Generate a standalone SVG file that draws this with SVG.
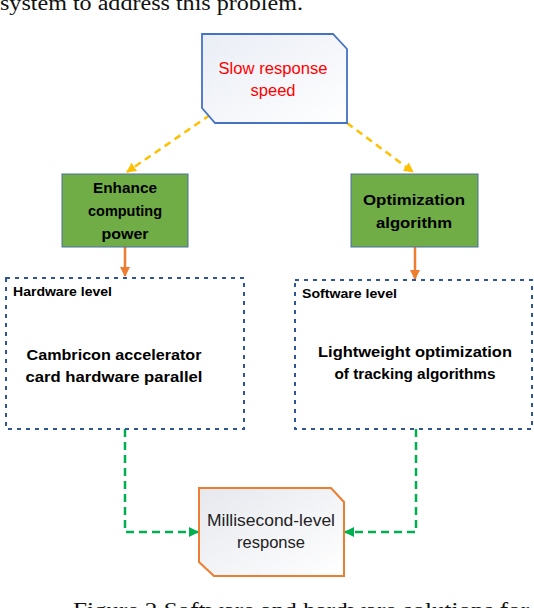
<svg xmlns="http://www.w3.org/2000/svg" width="534" height="608" viewBox="0 0 534 608">
<defs>
<linearGradient id="gBlue" x1="0" y1="0" x2="1" y2="1"><stop offset="0" stop-color="#e9edf5"/><stop offset="1" stop-color="#ffffff"/></linearGradient>
<linearGradient id="gGray" x1="0" y1="0" x2="1" y2="1"><stop offset="0" stop-color="#e6e8ee"/><stop offset="1" stop-color="#ffffff"/></linearGradient>
<marker id="mY" viewBox="0 0 10 10" refX="9" refY="5" markerWidth="4" markerHeight="4" orient="auto" markerUnits="strokeWidth"><path d="M0,0L10,5L0,10z" fill="#FFC000"/></marker>
<marker id="mO" viewBox="0 0 10 10" refX="9" refY="5" markerWidth="4" markerHeight="4" orient="auto" markerUnits="strokeWidth"><path d="M0,0L10,5L0,10z" fill="#ED7D31"/></marker>
<marker id="mG" viewBox="0 0 10 10" refX="9" refY="5" markerWidth="4" markerHeight="4" orient="auto" markerUnits="strokeWidth"><path d="M0,0L10,5L0,10z" fill="#00B050"/></marker>
</defs>
<style>
.serif{font-family:"Liberation Serif","Times New Roman",serif;font-size:20px;fill:#111}
.b{font-family:"Liberation Sans",Arial,sans-serif;font-weight:bold;fill:#000}
.r{font-family:"Liberation Sans",Arial,sans-serif;fill:#222}
.green{fill:#70AD47;stroke:#4F6EA8;stroke-width:1}
.dash{fill:none;stroke:#2F5597;stroke-width:2;stroke-dasharray:4 5}
.yl{fill:none;stroke:#FFC000;stroke-width:2.5;stroke-dasharray:7 5}
.or{fill:none;stroke:#ED7D31;stroke-width:2.5}
.gr{fill:none;stroke:#00B050;stroke-width:2.5;stroke-dasharray:8 5}
</style>
<text class="serif" x="0" y="10" textLength="303" lengthAdjust="spacingAndGlyphs">system to address this problem.</text>
<text class="serif" x="73" y="617" textLength="456" lengthAdjust="spacingAndGlyphs">Figure 2 Software and hardware solutions for</text>

<g id="connectors">
<path class="yl" d="M210,115 L127,172" marker-end="url(#mY)"/>
<path class="yl" d="M347,123 L413,172" marker-end="url(#mY)"/>
<path class="or" d="M125,247 L125,276" marker-end="url(#mO)"/>
<path class="or" d="M415,247 L415,279" marker-end="url(#mO)"/>
<path class="gr" d="M125,429 L125,532 L198,532" marker-end="url(#mG)"/>
<path class="gr" d="M416,429 L416,532 L345,532" marker-end="url(#mG)"/>
</g>

<g id="slow">
<path d="M202,34 L333,34 L347,49 L347,123 L215,123 L202,108 Z" fill="url(#gBlue)" stroke="#4472C4" stroke-width="1.8"/>
<text class="r" x="273" y="74" text-anchor="middle" font-size="16" style="fill:#FF0000" textLength="109" lengthAdjust="spacingAndGlyphs">Slow response</text>
<text class="r" x="273" y="96" text-anchor="middle" font-size="16" style="fill:#FF0000" textLength="45" lengthAdjust="spacingAndGlyphs">speed</text>
</g>

<g id="enhance">
<rect class="green" x="62" y="174" width="126" height="73"/>
<text class="b" x="125" y="193" text-anchor="middle" font-size="15" textLength="64" lengthAdjust="spacingAndGlyphs">Enhance</text>
<text class="b" x="125" y="216" text-anchor="middle" font-size="15" textLength="74" lengthAdjust="spacingAndGlyphs">computing</text>
<text class="b" x="125" y="239" text-anchor="middle" font-size="15" textLength="47" lengthAdjust="spacingAndGlyphs">power</text>
</g>

<g id="optim">
<rect class="green" x="351" y="174" width="127" height="73"/>
<text class="b" x="414" y="205" text-anchor="middle" font-size="15" textLength="102" lengthAdjust="spacingAndGlyphs">Optimization</text>
<text class="b" x="414" y="228" text-anchor="middle" font-size="15" textLength="76" lengthAdjust="spacingAndGlyphs">algorithm</text>
</g>

<g id="hardware">
<rect class="dash" x="6" y="278" width="238" height="151"/>
<text class="b" x="13" y="296" font-size="12.5" textLength="99" lengthAdjust="spacingAndGlyphs">Hardware level</text>
<text class="b" x="114" y="360" text-anchor="middle" font-size="15" textLength="175" lengthAdjust="spacingAndGlyphs">Cambricon accelerator</text>
<text class="b" x="114" y="382" text-anchor="middle" font-size="15" textLength="177" lengthAdjust="spacingAndGlyphs">card hardware parallel</text>
</g>

<g id="software">
<rect class="dash" x="295" y="280" width="237" height="149"/>
<text class="b" x="302" y="298" font-size="12.5" textLength="95" lengthAdjust="spacingAndGlyphs">Software level</text>
<text class="b" x="415" y="357" text-anchor="middle" font-size="15" textLength="194" lengthAdjust="spacingAndGlyphs">Lightweight optimization</text>
<text class="b" x="415" y="379" text-anchor="middle" font-size="15" textLength="161" lengthAdjust="spacingAndGlyphs">of tracking algorithms</text>
</g>

<g id="ms">
<path d="M199,488 L331,488 L344,502 L344,576 L214,576 L199,562 Z" fill="url(#gGray)" stroke="#ED7D31" stroke-width="2"/>
<text class="r" x="271" y="526" text-anchor="middle" font-size="16" textLength="128" lengthAdjust="spacingAndGlyphs">Millisecond-level</text>
<text class="r" x="271" y="548" text-anchor="middle" font-size="16" textLength="68" lengthAdjust="spacingAndGlyphs">response</text>
</g>
</svg>
